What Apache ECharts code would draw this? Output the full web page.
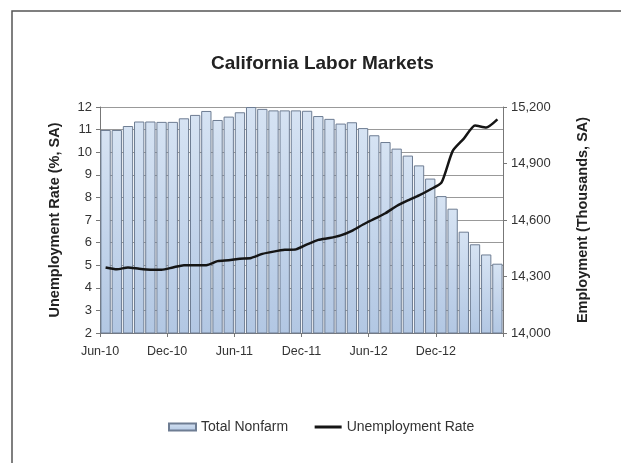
<!DOCTYPE html>
<html>
<head>
<meta charset="utf-8">
<script src="https://cdn.jsdelivr.net/npm/echarts@6/dist/echarts.min.js"></script>
<style>html,body{margin:0;padding:0;background:#fff}#c{width:621px;height:463px}</style>
</head>
<body>
<div id="c"></div>
<script>
var months = ['Jun-10','Jul-10','Aug-10','Sep-10','Oct-10','Nov-10','Dec-10','Jan-11','Feb-11','Mar-11','Apr-11','May-11',
  'Jun-11','Jul-11','Aug-11','Sep-11','Oct-11','Nov-11','Dec-11','Jan-12','Feb-12','Mar-12','Apr-12','May-12',
  'Jun-12','Jul-12','Aug-12','Sep-12','Oct-12','Nov-12','Dec-12','Jan-13','Feb-13','Mar-13','Apr-13','May-13'];
var xTickLabels = ['Jun-10','Dec-10','Jun-11','Dec-11','Jun-12','Dec-12'];
var totalNonfarm = [15078,15078,15099,15123,15123,15121,15121,15140,15158,15179,15131,15149,
  15172,15200,15190,15182,15182,15182,15180,15152,15137,15112,15119,15088,
  15050,15014,14979,14942,14890,14820,14727,14660,14538,14471,14417,14368];
var unemploymentRate = [4.9,4.82,4.9,4.84,4.8,4.8,4.9,5.0,5.0,5.0,5.18,5.22,
  5.29,5.32,5.5,5.6,5.68,5.7,5.92,6.12,6.2,6.32,6.52,6.8,
  7.05,7.3,7.62,7.87,8.09,8.35,8.65,10.05,10.6,11.18,11.09,11.45];
var rightTicks = [14000,14300,14600,14900,15200];

var chart = echarts.init(document.getElementById('c'));
var font = 'Liberation Sans, Arial, sans-serif';
chart.setOption({
  animation: false,
  textStyle: {fontFamily: font},
  graphic: [{type:'rect', shape:{x:12, y:11, width:700, height:600}, style:{fill:'none', stroke:'#555', lineWidth:1.5}, silent:true}],
  title: {text:'California Labor Markets', left:206, top:49,
    textStyle:{fontFamily:font, fontSize:19, fontWeight:'bold', color:'#222'}},
  legend: {left:163, top:415, itemWidth:27, itemGap:25, itemHeight:7,
    textStyle:{fontFamily:font, fontSize:14, color:'#333'},
    data:[{name:'Total Nonfarm', icon:'rect'},
          {name:'Unemployment Rate', itemStyle:{opacity:0}, lineStyle:{width:3, color:'#151515'}}]},
  grid: {left:100, right:118, top:107, bottom:130},
  xAxis: [
    {type:'category', data:months, boundaryGap:true,
     axisLine:{show:true, lineStyle:{color:'#777'}}, axisTick:{show:false}, axisLabel:{show:false}},
    {type:'value', min:0, max:36, interval:6, position:'bottom',
     axisLine:{show:false}, splitLine:{show:false},
     axisTick:{show:true, length:4, lineStyle:{color:'#777'}},
     axisLabel:{fontSize:12.5, color:'#333', margin:12,
       formatter:function(v){ return xTickLabels[v/6] || ''; }}}
  ],
  yAxis: [
    {type:'value', min:2, max:12, interval:1, name:'Unemployment Rate (%, SA)', nameLocation:'middle', nameGap:38, nameRotate:90,
     nameTextStyle:{fontFamily:font, fontSize:14.5, fontWeight:'bold', color:'#222'},
     axisLine:{show:true, lineStyle:{color:'#777'}}, axisTick:{show:true, length:4, lineStyle:{color:'#777'}},
     axisLabel:{fontSize:13, color:'#333', margin:8},
     splitLine:{show:true, lineStyle:{color:'#999', width:1}}},
    {type:'value', min:14000, max:15200, position:'right', name:'Employment (Thousands, SA)', nameLocation:'middle', nameGap:72, nameRotate:90,
     nameTextStyle:{fontFamily:font, fontSize:14.5, fontWeight:'bold', color:'#222'},
     axisLine:{show:true, lineStyle:{color:'#777'}},
     axisTick:{show:true, length:4, customValues:rightTicks, lineStyle:{color:'#777'}},
     axisLabel:{fontSize:13, color:'#333', margin:8, customValues:rightTicks,
       formatter:function(v){ return v.toLocaleString('en-US'); }},
     splitLine:{show:false}}
  ],
  series: [
    {name:'Total Nonfarm', type:'bar', xAxisIndex:0, yAxisIndex:1, data:totalNonfarm, barCategoryGap:'8%',
     itemStyle:{color:new echarts.graphic.LinearGradient(0,0,0,1,[{offset:0,color:'#d6e3f3'},{offset:1,color:'#b2c7e3'}]),
       borderColor:'#6e7d93', borderWidth:1}},
    {name:'Unemployment Rate', type:'line', xAxisIndex:0, yAxisIndex:0, data:unemploymentRate, smooth:0.2,
     showSymbol:false, symbol:'none', lineStyle:{color:'#151515', width:2.5}, itemStyle:{color:'#151515'}}
  ]
});
</script>
</body>
</html>
